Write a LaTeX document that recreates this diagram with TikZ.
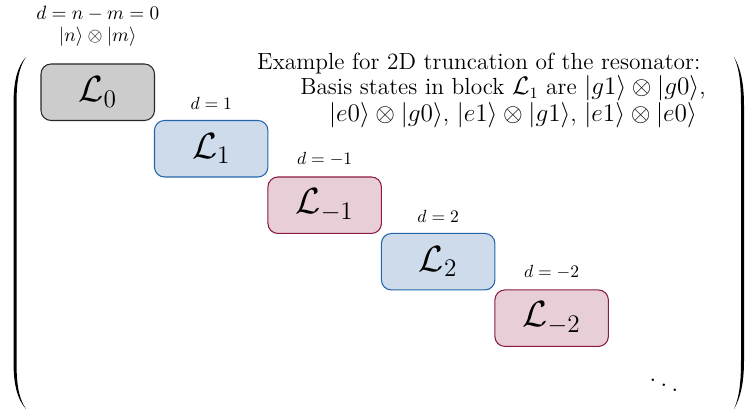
\documentclass[tikz,border=0pt]{standalone}
\usetikzlibrary{positioning}

\definecolor{grayfill}{RGB}{204,204,204}
\definecolor{grayline}{RGB}{40,40,40}
\definecolor{evenfill}{RGB}{205,219,235}
\definecolor{evenline}{RGB}{35,100,170}
\definecolor{oddfill}{RGB}{231,206,215}
\definecolor{oddline}{RGB}{140,25,65}

\tikzset{
  blk/.style={draw, rounded corners=0.2cm, minimum width=2.27cm, minimum height=1.13cm,
    anchor=north west, outer sep=0pt, line width=0.6pt, font=\huge},
  dlabel/.style={above=0.09cm of #1, font=\normalsize},
}

\begin{document}
\begin{tikzpicture}[x=0.02cm, y=-0.02cm]
    \useasboundingbox (0,0) rectangle (745,412);

    % the diagonal blocks
    \node[blk, fill=grayfill, draw=grayline] (L0) at (41,64) {$\mathcal{L}_0$};
    \node[blk, fill=evenfill, draw=evenline] (L1) at (L0.south east) {$\mathcal{L}_1$};
    \node[blk, fill=oddfill, draw=oddline] (Lm1) at (L1.south east) {$\mathcal{L}_{-1}$};
    \node[blk, fill=evenfill, draw=evenline] (L2) at (Lm1.south east) {$\mathcal{L}_2$};
    \node[blk, fill=oddfill, draw=oddline] (Lm2) at (L2.south east) {$\mathcal{L}_{-2}$};
    \node (dots) [font=\LARGE] at (664,380) {$\ddots$};

    % labels
    \node (top) [above=0.35cm of L0, align=center, inner sep=0pt, font=\fontsize{11}{12.5}\selectfont]
      {$d=n-m=0$\\ $|n\rangle\otimes|m\rangle$};
    \node (d1) [dlabel=L1] {$d=1$};
    \node (dm1) [dlabel=Lm1] {$d=-1$};
    \node (d2) [dlabel=L2] {$d=2$};
    \node (dm2) [dlabel=Lm2] {$d=-2$};

    \node (note) [anchor=north east, align=right, inner sep=0pt,
      font=\fontsize{13.3}{14.3}\selectfont] at (706,53)
      {Example for 2D truncation of the resonator:\hspace*{3pt}\\
       Basis states in block $\mathcal{L}_1$ are $|g1\rangle\otimes|g0\rangle$,\\
       $|e0\rangle\otimes|g0\rangle$, $|e1\rangle\otimes|g1\rangle$, $|e1\rangle\otimes|e0\rangle$\hspace*{5pt}};

    % brackets
    \fill (26,57) .. controls (17,67) and (13.5,82) .. (13.5,105) -- (13.5,361)
      .. controls (13.5,384) and (17,399) .. (26,409)
      .. controls (18.5,398) and (16.5,384) .. (16.5,361) -- (16.5,105)
      .. controls (16.5,82) and (18.5,68) .. (26,57) -- cycle;
    \fill (734,57) .. controls (740,67) and (744,82) .. (744,105) -- (744,361)
      .. controls (744,384) and (740,399) .. (734,409)
      .. controls (739,398) and (741,384) .. (741,361) -- (741,105)
      .. controls (741,82) and (739,68) .. (734,57) -- cycle;
\end{tikzpicture}
\end{document}
